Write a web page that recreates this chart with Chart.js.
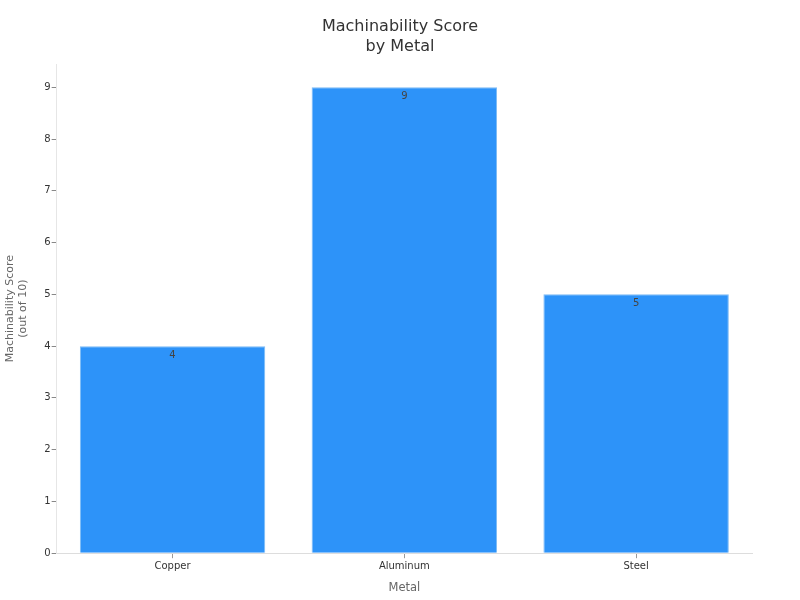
<!DOCTYPE html>
<html>
<head>
<meta charset="utf-8">
<script src="https://cdn.jsdelivr.net/npm/chart.js@4"></script>
<style>
html,body{margin:0;padding:0;background:#fff;}
#wrap{width:800px;height:600px;}
</style>
</head>
<body>
<div id="wrap"><canvas id="c" width="800" height="600"></canvas></div>
<script>
const categories = ["Copper", "Aluminum", "Steel"];
const scores = [4, 9, 5];
const yTicks = [0, 1, 2, 3, 4, 5, 6, 7, 8, 9];
const titleLines = ["Machinability Score", "by Metal"];

const barLabels = {
  id: 'barLabels',
  afterDatasetsDraw(chart) {
    const ctx = chart.ctx;
    const meta = chart.getDatasetMeta(0);
    ctx.save();
    ctx.font = '10px "DejaVu Sans"';
    ctx.fillStyle = '#444';
    ctx.textAlign = 'center';
    ctx.textBaseline = 'top';
    meta.data.forEach((bar, i) => {
      ctx.fillText(String(scores[i]), bar.x, bar.y + 4);
    });
    ctx.restore();
  }
};

const centeredTitle = {
  id: 'centeredTitle',
  afterDraw(chart) {
    const ctx = chart.ctx;
    ctx.save();
    ctx.font = '16px "DejaVu Sans"';
    ctx.fillStyle = '#333';
    ctx.textAlign = 'center';
    ctx.textBaseline = 'middle';
    titleLines.forEach((t, i) => ctx.fillText(t, chart.width / 2, 27 + i * 20));
    ctx.restore();
  }
};

Chart.defaults.font.family = '"DejaVu Sans", sans-serif';

new Chart(document.getElementById('c'), {
  type: 'bar',
  data: {
    labels: categories,
    datasets: [{
      data: scores,
      backgroundColor: '#2d93f9',
      borderColor: '#7dbaf5',
      borderWidth: 1,
      barPercentage: 1.0,
      categoryPercentage: 0.8
    }]
  },
  options: {
    responsive: false,
    animation: false,
    layout: { padding: { left: 4, right: 48, top: 64, bottom: 5 } },
    plugins: {
      legend: { display: false },
      tooltip: { enabled: false },
      title: { display: false }
    },
    scales: {
      x: {
        grid: { offset: false, drawOnChartArea: false, drawTicks: true, tickLength: 5, color: '#999' },
        border: { color: '#ddd' },
        ticks: { color: '#333', font: { size: 10 }, padding: 2 },
        title: { display: true, text: 'Metal', color: '#666', font: { size: 11.5 }, padding: { top: 7, bottom: 0 } }
      },
      y: {
        min: 0,
        max: 9.45,
        afterBuildTicks(scale) {
          scale.ticks = yTicks.map(v => ({ value: v }));
        },
        grid: { drawOnChartArea: false, drawTicks: true, tickLength: 5, color: '#888' },
        border: { color: '#e6e6e6' },
        ticks: { color: '#333', font: { size: 10 }, padding: 1 },
        title: { display: true, text: ["Machinability Score", "(out of 10)"], color: '#666', font: { size: 11, lineHeight: 1.15 }, padding: { top: 0, bottom: 14 } }
      }
    }
  },
  plugins: [barLabels, centeredTitle]
});
</script>
</body>
</html>
